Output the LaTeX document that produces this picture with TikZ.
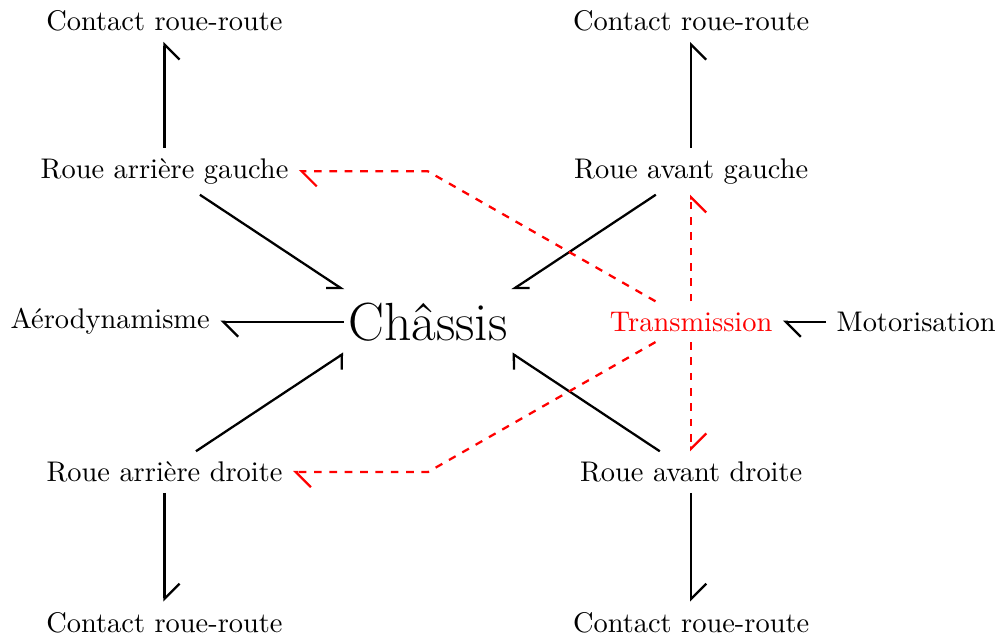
\documentclass[tikz,border=0pt]{standalone}
\usetikzlibrary{positioning,arrows.meta,calc}

\tikzset{
    tipR/.style={-{Straight Barb[right,#1]}},
    tipR/.default={length=5.3pt,width=10.6pt},
    tipL/.style={-{Straight Barb[left,#1]}},
    tipL/.default={length=5.3pt,width=10.6pt},
    trans/.style={red, dash pattern=on 2.7pt off 2.7pt},
}

\begin{document}
\begin{tikzpicture}[node distance=1.86cm and 3.257cm, on grid, thick]
    % Define nodes
    \node (CH) [inner xsep=1.2pt, inner ysep=4pt] {\fontsize{18.9pt}{22pt}\selectfont Châssis};
    \node (RAG) [above left=of CH] {Roue arrière gauche};
    \node (RAVG) [above right=of CH] {Roue avant gauche};
    \node (RAD) [below left=of CH] {Roue arrière droite};
    \node (RAVD) [below right=of CH] {Roue avant droite};

    \node (CRAG) [above=of RAG] {Contact roue-route};
    \node (CRAVG) [above=of RAVG] {Contact roue-route};
    \node (CRAD) [below=of RAD] {Contact roue-route};
    \node (CRAVD) [below=of RAVD] {Contact roue-route};

    \node (AE) [left=3.929cm of CH] {Aérodynamisme};
    \node (TR) [below=of RAVG, text=red] {Transmission};
    \node (MO) [right=2.783cm of TR] {Motorisation};
    % Draw arrows
    \draw[tipR] (RAG) -- (CRAG);
    \draw[tipR] (RAVG) -- (CRAVG);
    \draw[tipL] (RAD) -- (CRAD);
    \draw[tipL] (RAVD) -- (CRAVD);

    \draw[tipR={length=4.2pt,width=5.7pt}] (RAG) -- (CH.north west);
    \draw[tipL={length=4.2pt,width=5.7pt}] (RAVG) -- (CH.north east);
    \draw[tipR={length=3pt,width=8.8pt}] (RAD) -- (CH.south west);
    \draw[tipL={length=3pt,width=8.8pt}] (RAVD) -- (CH.south east);

    \draw[tipL] (CH) -- (AE);
    \draw[tipL] (MO) -- (TR);

    \draw[trans, tipL] (TR) -- (CH |- RAG) -- (RAG);
    \draw[trans, tipL] (TR) -- (CH |- RAD) -- (RAD);
    \draw[trans, tipR] (TR) -- (RAVG);
    \draw[trans, tipL] (TR) -- (RAVD);

    \pgfresetboundingbox
    \useasboundingbox (AE.west |- CRAG.north) rectangle ($(MO.east |- CRAD.base)+(-1.5pt,-1.5pt)$);
\end{tikzpicture}
\end{document}
